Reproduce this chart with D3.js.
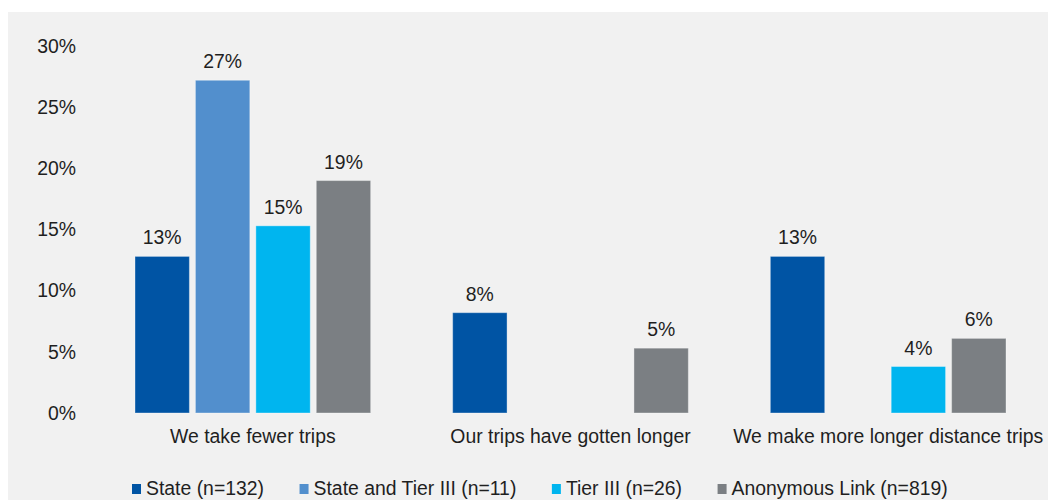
<!DOCTYPE html>
<html>
<head>
<meta charset="utf-8">
<script src="https://cdn.jsdelivr.net/npm/d3@7/dist/d3.min.js"></script>
<style>
  html, body { margin: 0; padding: 0; background: #ffffff; }
  svg { display: block; font-family: "Liberation Sans", Arial, sans-serif; }
</style>
</head>
<body>
<svg id="chart" width="1048" height="500"></svg>
<script>
// Survey responses: how trips have changed, by respondent group (% of respondents)
const categories = ["We take fewer trips", "Our trips have gotten longer", "We make more longer distance trips"];
const seriesNames = ["State (n=132)", "State and Tier III (n=11)", "Tier III (n=26)", "Anonymous Link (n=819)"];
const stateValues = [12.8, 8.2, 12.8];
const stateTierValues = [27.2, null, null];
const tierValues = [15.3, null, 3.8];
const anonymousValues = [19.0, 5.3, 6.1];
const yTicks = [0, 5, 10, 15, 20, 25, 30];

const seriesValues = [stateValues, stateTierValues, tierValues, anonymousValues];
const colors = ["#0054a4", "#528fcd", "#00b5ef", "#7b7f83"];
const fontSize = 19.4;

const svg = d3.select("#chart");

// panel background
svg.append("rect")
  .attr("x", 8).attr("y", 12)
  .attr("width", 1040).attr("height", 488)
  .attr("fill", "#f1f1f1");

const x0 = d3.scaleBand().domain(categories).range([94, 1047]).padding(0);
const x1 = d3.scaleBand().domain(seriesNames)
  .range([41, x0.bandwidth() - 41]).paddingInner(0.1).paddingOuter(0);
const y = d3.scaleLinear().domain([0, 30]).range([413, 46]);

// y axis labels
const yAxis = d3.axisLeft(y).tickValues(yTicks).tickFormat(d => d + "%").tickSize(0).tickPadding(0);
const yg = svg.append("g").attr("transform", "translate(76,0)").call(yAxis);
yg.select(".domain").remove();
yg.selectAll("text")
  .attr("font-size", fontSize)
  .attr("font-family", "Liberation Sans, Arial, sans-serif")
  .attr("fill", "#1f1f1f");

// x axis labels
const xAxis = d3.axisBottom(x0).tickSize(0).tickPadding(0);
const xg = svg.append("g").attr("transform", "translate(0,413)").call(xAxis);
xg.select(".domain").remove();
xg.selectAll("text")
  .attr("font-size", fontSize)
  .attr("font-family", "Liberation Sans, Arial, sans-serif")
  .attr("fill", "#1f1f1f")
  .attr("dy", null)
  .attr("y", 30);

// bars
const rows = [];
categories.forEach((c, i) => {
  seriesNames.forEach((s, j) => {
    const v = seriesValues[j][i];
    if (v != null) rows.push({ category: c, series: s, value: v, color: colors[j] });
  });
});

const groups = svg.append("g");
groups.selectAll("rect.bar")
  .data(rows)
  .join("rect")
  .attr("class", "bar")
  .attr("x", d => x0(d.category) + x1(d.series))
  .attr("y", d => y(d.value))
  .attr("width", x1.bandwidth())
  .attr("height", d => y(0) - y(d.value))
  .attr("fill", d => d.color)
  .attr("stroke", "#ffffff")
  .attr("stroke-opacity", 0.35)
  .attr("stroke-width", 1);

// value labels
groups.selectAll("text.val")
  .data(rows)
  .join("text")
  .attr("class", "val")
  .attr("x", d => x0(d.category) + x1(d.series) + x1.bandwidth() / 2)
  .attr("y", d => y(d.value) - 12)
  .attr("text-anchor", "middle")
  .attr("font-size", fontSize)
  .attr("fill", "#1f1f1f")
  .text(d => d3.format(".0f")(d.value) + "%");

// legend
const legend = svg.append("g").attr("transform", "translate(132,0)");
let lx = 0;
seriesNames.forEach((s, j) => {
  const item = legend.append("g").attr("transform", `translate(${lx},0)`);
  item.append("rect")
    .attr("x", 0).attr("y", 484)
    .attr("width", 9).attr("height", 10)
    .attr("fill", colors[j]);
  const t = item.append("text")
    .attr("x", 14).attr("y", 495)
    .attr("font-size", fontSize)
    .attr("fill", "#1f1f1f")
    .text(s);
  lx += 14 + t.node().getComputedTextLength() + 35.5;
});
</script>
</body>
</html>
